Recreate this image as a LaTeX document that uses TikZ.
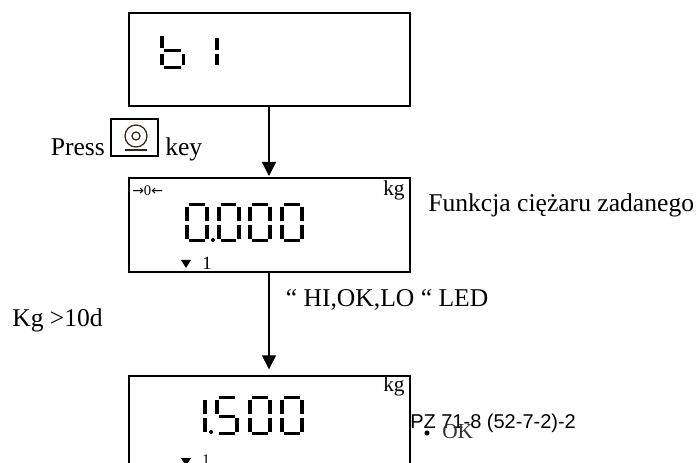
\documentclass[tikz,border=0pt]{standalone}
\usepackage{fontspec}
\setmainfont{Liberation Serif}
\newfontfamily\arialf{Liberation Sans}
\newfontfamily\djf{DejaVu Sans}
\usetikzlibrary{arrows.meta}
\newcommand{\tfont}{\fontsize{19.2pt}{22pt}\selectfont}
\newcommand{\sevenseg}[3]{% x, y(top), segments
  \begin{scope}[shift={(#1,#2)}]
    \foreach \s in {#3}{
      \if\s a\fill (4,0) rectangle (19.5,3);\fi
      \if\s b\fill (20,4) rectangle (24,18);\fi
      \if\s c\fill (20,22) rectangle (24,36);\fi
      \if\s d\fill (4,36) rectangle (19.5,39);\fi
      \if\s e\fill (0,22) rectangle (4,36);\fi
      \if\s f\fill (0,4) rectangle (4,18);\fi
      \if\s g\fill (4,18.5) rectangle (19.5,21.5);\fi
    }
  \end{scope}}
\tikzset{
  lcd/.style={draw=black,line width=1.3pt,fill=white,outer sep=0pt,minimum width=281*0.75pt,minimum height=#1*0.75pt,inner sep=0pt,anchor=north west},
  conn/.style={line width=1pt,-{Triangle[length=10.5pt,width=10.5pt]}},
  lab/.style={anchor=base west,inner sep=0pt,font=\tfont},
  small/.style={anchor=base west,inner sep=0pt,font=\fontsize{16pt}{18pt}\selectfont},
}
\begin{document}
\begin{tikzpicture}[x=0.75pt,y=-0.75pt]
\useasboundingbox (0,0) rectangle (700,463);
\clip (0,0) rectangle (700,463);
\fill[white] (0,0) rectangle (700,463);
% boxes
\node[lcd=93] (box1) at (129,13) {};
\node[lcd=94] (box2) at (129,178) {};
\node[lcd=110] (box3) at (129,376) {};
\coordinate (t1) at (269,178);
\coordinate (t2) at (269,376);
\coordinate (s1) at (269,106);
\coordinate (s2) at (269,272);
\draw[conn,shorten >=1.5pt] (s1) -- (t1);
\draw[conn,shorten >=5pt] (s2) -- (t2);
% b 1
\fill (160,36) rectangle (164,48);
\fill (164,49) rectangle (181,52);
\fill (160,54) rectangle (164,65);
\fill (182,54) rectangle (185,65);
\fill (164,66) rectangle (181,69);
\fill (215,38) rectangle (219,50);
\fill (215,54) rectangle (219,65);
% 0.000
\sevenseg{185}{203}{a,b,c,d,e,f}
\sevenseg{216.5}{203}{a,b,c,d,e,f}
\sevenseg{248}{203}{a,b,c,d,e,f}
\sevenseg{280}{203}{a,b,c,d,e,f}
\fill (213,240) circle (2);
% 1.500
\sevenseg{183}{396}{b,c}
\sevenseg{215}{396}{a,f,g,c,d}
\sevenseg{248}{396}{a,b,c,d,e,f}
\sevenseg{280}{396}{a,b,c,d,e,f}
\fill (211,432) circle (2);
% small labels
\node[anchor=base west,inner sep=0pt,font=\fontsize{11pt}{12pt}\selectfont] (zero) at (132,196) {{\djf\fontsize{10.5pt}{12pt}\selectfont →}0{\djf\fontsize{10.5pt}{12pt}\selectfont ←}};
\node[small] (kg1) at (383,196) {kg};
\node[small] (kg2) at (383,392) {kg};
\fill (181,260) -- (191,260) -- (186,268) -- cycle;
\node[anchor=base west,inner sep=0pt,font=\fontsize{14pt}{16pt}\selectfont] (one1) at (202,270) {1};
\fill (181,458) -- (191,458) -- (186,466) -- cycle;
\node[anchor=base west,inner sep=0pt,font=\fontsize{11pt}{13pt}\selectfont] (one2) at (202,464) {1};
% labels
\node[lab] (press) at (50.5,156) {Press};
\node[draw=black,line width=1.4pt,outer sep=0pt,minimum width=47*0.75pt,minimum height=37*0.75pt,inner sep=0pt,anchor=north west] (keybox) at (111,119) {};
\draw[line width=0.9pt,draw=black!75!brown] (136,136) circle (11);
\draw[line width=0.9pt,draw=black!75!brown] (136,136) circle (4);
\draw[line width=1pt,draw=black!70!brown] (125,150) -- (147,150);
\node[lab] (key) at (165,156) {key};
\node[lab] (func) at (428,212) {Funkcja ciężaru zadanego};
\node[lab] (kgd) at (12,327) {Kg >10d};
\node[lab] (led) at (285.5,307) {“ HI,OK,LO “ LED};
\node[anchor=base west,inner sep=0pt,font=\arialf\fontsize{15pt}{17pt}\selectfont] (pz) at (410,428) {PZ 71-8 (52-7-2)-2};
\fill (427,433) circle (2.5);
\node[anchor=base west,inner sep=0pt,text=black!80,font=\fontsize{16pt}{18pt}\selectfont] (ok) at (442,438) {OK};
\end{tikzpicture}
\end{document}
